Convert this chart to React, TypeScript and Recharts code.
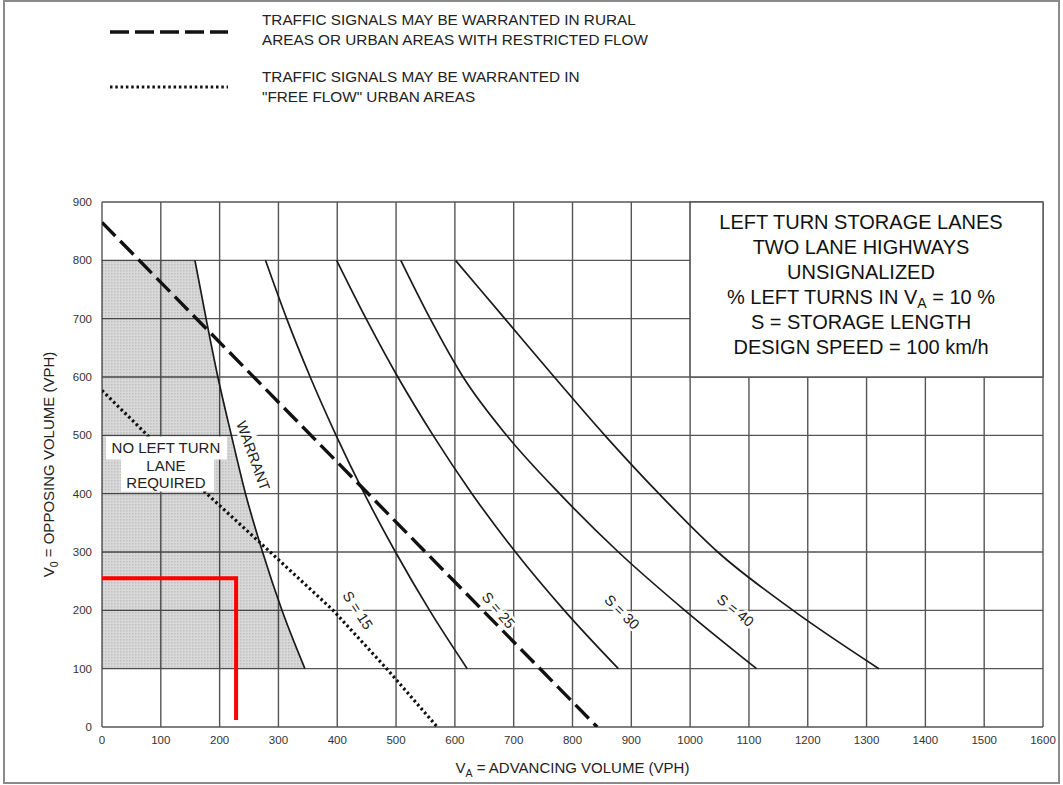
import React from 'react';
import {
  ComposedChart,
  Line,
  Area,
  XAxis,
  YAxis,
  CartesianGrid,
  ReferenceArea,
  ReferenceDot,
  Label,
} from 'recharts';

const FONT = '"Liberation Sans", Arial, Helvetica, sans-serif';

const xTicks = [0, 100, 200, 300, 400, 500, 600, 700, 800, 900, 1000, 1100, 1200, 1300, 1400, 1500, 1600];
const yTicks = [0, 100, 200, 300, 400, 500, 600, 700, 800, 900];

// warrant boundary (solid) and the shaded "no left turn lane" zone below 800 / above 100
const warrant = [
  { x: 158, y: 800 },
  { x: 177, y: 700 },
  { x: 197, y: 600 },
  { x: 220, y: 500 },
  { x: 244, y: 400 },
  { x: 273, y: 300 },
  { x: 306, y: 200 },
  { x: 345, y: 100 },
];
const shaded = [{ x: 0, y: 800 }, ...warrant];

// storage length curves
const s15 = [
  { x: 278, y: 800 }, { x: 314, y: 700 }, { x: 354, y: 600 }, { x: 398, y: 500 },
  { x: 446, y: 400 }, { x: 499, y: 300 }, { x: 557, y: 200 }, { x: 621, y: 100 },
];
const s25 = [
  { x: 399, y: 800 }, { x: 449, y: 700 }, { x: 503, y: 600 }, { x: 563, y: 500 },
  { x: 629, y: 400 }, { x: 703, y: 300 }, { x: 786, y: 200 }, { x: 878, y: 100 },
];
const s30 = [
  { x: 508, y: 800 }, { x: 558, y: 700 }, { x: 614, y: 600 }, { x: 688, y: 500 },
  { x: 778, y: 400 }, { x: 878, y: 300 }, { x: 991, y: 200 }, { x: 1113, y: 100 },
];
const s40 = [
  { x: 601, y: 800 }, { x: 685, y: 700 }, { x: 769, y: 600 }, { x: 855, y: 500 },
  { x: 947, y: 400 }, { x: 1047, y: 300 }, { x: 1175, y: 200 }, { x: 1321, y: 100 },
];

// signal warrant lines
const ruralSignal = [{ x: 0, y: 865 }, { x: 842, y: 0 }];
const freeFlowSignal = [
  { x: 0, y: 577 }, { x: 178, y: 400 }, { x: 286, y: 300 },
  { x: 393, y: 200 }, { x: 484, y: 100 }, { x: 570, y: 0 },
];

// red read-off marker
const readOff = [{ x: 0, y: 255 }, { x: 228, y: 255 }, { x: 228, y: 12 }];

const curveLabels = [
  { x: 257, y: 465, text: 'WARRANT', angle: 70 },
  { x: 435, y: 200, text: 'S = 15', angle: 57 },
  { x: 674, y: 200, text: 'S = 25', angle: 50 },
  { x: 884, y: 197, text: 'S = 30', angle: 45 },
  { x: 1077, y: 200, text: 'S = 40', angle: 39 },
];

const infoLines = [
  'LEFT TURN STORAGE LANES',
  'TWO LANE HIGHWAYS',
  'UNSIGNALIZED',
  '% LEFT TURNS IN V_A = 10 %',
  'S = STORAGE LENGTH',
  'DESIGN SPEED = 100 km/h',
];

const legendItems = [
  { lines: ['TRAFFIC SIGNALS MAY BE WARRANTED IN RURAL', 'AREAS OR URBAN AREAS WITH RESTRICTED FLOW'], dash: '19 6', width: 3.5 },
  { lines: ['TRAFFIC SIGNALS MAY BE WARRANTED IN', '"FREE FLOW" URBAN AREAS'], dash: '2.5 2.8', width: 3.2 },
];

const RotatedLabel = (props: any) => {
  const { cx, cy, text, angle } = props;
  return (
    <text
      x={cx}
      y={cy}
      transform={`rotate(${angle} ${cx} ${cy})`}
      textAnchor="middle"
      dominantBaseline="central"
      fontFamily={FONT}
      fontSize={14.5}
      fill="#222"
      stroke="#fff"
      strokeWidth={5}
      paintOrder="stroke"
    >
      {text}
    </text>
  );
};

const NoLaneLabel = (props: any) => {
  const { cx, cy } = props;
  return (
    <g fontFamily={FONT} fontSize={15} fill="#222" textAnchor="middle">
      <rect x={cx - 59} y={cy - 28} width={121} height={23} fill="#fff" />
      <rect x={cx - 44} y={cy - 8} width={93} height={35} fill="#fff" />
      <text x={cx + 1} y={cy - 12}>NO LEFT TURN</text>
      <text x={cx + 1} y={cy + 6}>LANE</text>
      <text x={cx + 1} y={cy + 23}>REQUIRED</text>
    </g>
  );
};

const subText = (s: string, sub: string) => {
  const [a, b] = s.split('_' + sub);
  return (
    <>
      {a}
      <tspan fontSize="0.7em" dy="4">{sub}</tspan>
      <tspan dy="-4">{b}</tspan>
    </>
  );
};

export default function App() {
  return (
    <div style={{ position: 'relative', width: 1063, height: 785, background: '#fff' }}>
      <style>{'body{margin:0}'}</style>
      <ComposedChart
        width={1063}
        height={785}
        margin={{ top: 202, right: 20, bottom: 28, left: 42 }}
      >
        <defs>
          <pattern id="halftone" width="3" height="3" patternUnits="userSpaceOnUse">
            <rect width="3" height="3" fill="rgba(0,0,0,0.15)" />
            <rect width="1.5" height="1.5" fill="rgba(0,0,0,0.12)" />
          </pattern>
        </defs>
        <CartesianGrid stroke="#555" strokeWidth={1.4} />
        <XAxis
          type="number"
          dataKey="x"
          domain={[0, 1600]}
          ticks={xTicks}
          allowDataOverflow
          height={30}
          axisLine={false}
          tickLine={false}
          tickSize={0}
          tickMargin={9}
          tick={{ fontSize: 11.5, fill: '#333', fontFamily: FONT }}
        >
          <Label
            content={({ viewBox }: any) => (
              <text
                x={viewBox.x + viewBox.width / 2}
                y={viewBox.y + 46}
                textAnchor="middle"
                fontFamily={FONT}
                fontSize={15}
                fill="#222"
              >
                {subText('V_A = ADVANCING VOLUME (VPH)', 'A')}
              </text>
            )}
          />
        </XAxis>
        <YAxis
          type="number"
          dataKey="y"
          domain={[0, 900]}
          ticks={yTicks}
          allowDataOverflow
          width={60}
          axisLine={false}
          tickLine={false}
          tickSize={0}
          tickMargin={10}
          tick={{ fontSize: 11.5, fill: '#333', fontFamily: FONT }}
        >
          <Label
            content={({ viewBox }: any) => {
              const cx = viewBox.x + 12;
              const cy = viewBox.y + viewBox.height / 2;
              return (
                <text
                  x={cx}
                  y={cy}
                  transform={`rotate(-90 ${cx} ${cy})`}
                  textAnchor="middle"
                  fontFamily={FONT}
                  fontSize={15}
                  fill="#222"
                >
                  {subText('V_0 = OPPOSING VOLUME (VPH)', '0')}
                </text>
              );
            }}
          />
        </YAxis>
        <ReferenceArea x1={1000} x2={1600} y1={600} y2={900} fill="#fff" fillOpacity={1} stroke="#555" strokeWidth={1.4} />
        <Area
          data={shaded}
          dataKey="y"
          type="linear"
          baseValue={100}
          stroke="none"
          fill="url(#halftone)"
          fillOpacity={1}
          isAnimationActive={false}
        />
        <Line data={warrant} dataKey="y" type="monotone" stroke="#1a1a1a" strokeWidth={1.7} dot={false} isAnimationActive={false} />
        <Line data={s15} dataKey="y" type="monotone" stroke="#1a1a1a" strokeWidth={1.7} dot={false} isAnimationActive={false} />
        <Line data={s25} dataKey="y" type="monotone" stroke="#1a1a1a" strokeWidth={1.7} dot={false} isAnimationActive={false} />
        <Line data={s30} dataKey="y" type="monotone" stroke="#1a1a1a" strokeWidth={1.7} dot={false} isAnimationActive={false} />
        <Line data={s40} dataKey="y" type="monotone" stroke="#1a1a1a" strokeWidth={1.7} dot={false} isAnimationActive={false} />
        <Line data={freeFlowSignal} dataKey="y" type="linear" stroke="#111" strokeWidth={3.2} strokeDasharray="2.5 2.8" dot={false} isAnimationActive={false} />
        <Line data={ruralSignal} dataKey="y" type="linear" stroke="#111" strokeWidth={3.4} strokeDasharray="19 7" dot={false} isAnimationActive={false} />
        {curveLabels.map((l) => (
          <ReferenceDot
            key={l.text}
            x={l.x}
            y={l.y}
            r={0}
            shape={(p: any) => <RotatedLabel {...p} text={l.text} angle={l.angle} />}
          />
        ))}
        <ReferenceDot x={107} y={450} r={0} shape={(p: any) => <NoLaneLabel {...p} />} />
        <Line data={readOff} dataKey="y" type="linear" stroke="#ff0000" strokeWidth={4} dot={false} isAnimationActive={false} />
      </ComposedChart>

      <svg
        width={1063}
        height={785}
        style={{ position: 'absolute', left: 0, top: 0, pointerEvents: 'none' }}
        fontFamily={FONT}
      >
        <rect x={4} y={1} width={1055} height={782} fill="none" stroke="#8a8a8a" strokeWidth={2} />
        {legendItems.map((item, i) => (
          <g key={i}>
            <line
              x1={110}
              x2={228}
              y1={32 + i * 55}
              y2={32 + i * 55}
              stroke="#111"
              strokeWidth={item.width}
              strokeDasharray={item.dash}
            />
            {item.lines.map((t, j) => (
              <text key={j} x={262} y={25 + i * 57 + j * 20} fontSize={15.3} fill="#222">
                {t}
              </text>
            ))}
          </g>
        ))}
        {infoLines.map((t, i) => (
          <text key={i} x={861} y={229 + i * 25} textAnchor="middle" fontSize={20} fill="#111">
            {t.includes('_A') ? subText(t, 'A') : t}
          </text>
        ))}
      </svg>
    </div>
  );
}
